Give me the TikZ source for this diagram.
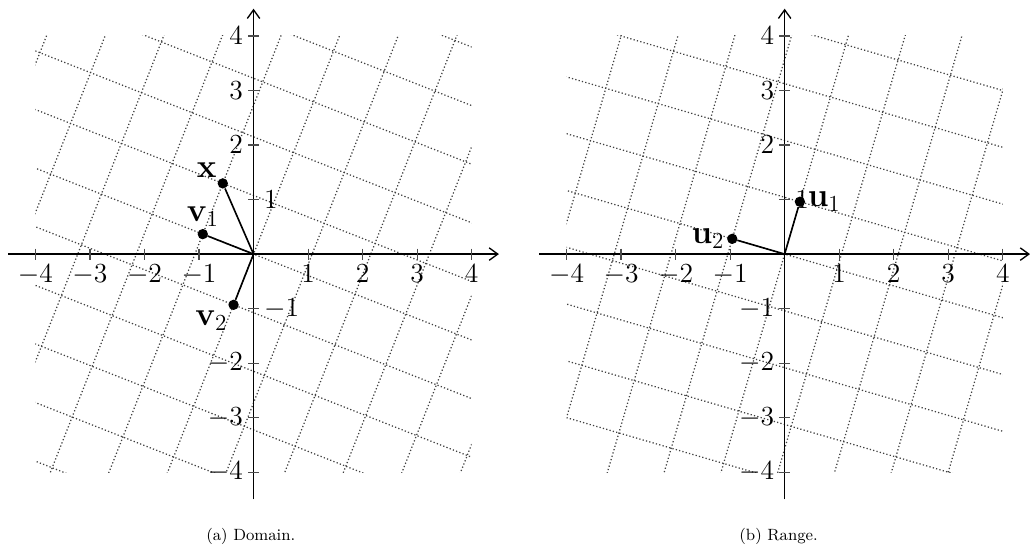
\documentclass[tikz,border=0pt]{standalone}
\usepackage{amsmath}
\usetikzlibrary{arrows.meta}

\begin{document}
\begin{tikzpicture}[
    axis/.style={draw, line width=0.7pt, -{Straight Barb[length=4.5pt, width=6.5pt]}},
    tick/.style={draw=black!70, line width=0.6pt},
    ticklabel/.style={font=\Large, inner sep=2.5pt},
    gridline/.style={draw=black!75, line width=0.65pt, dash pattern=on 0.65pt off 1.15pt},
    vec/.style={draw, line width=0.85pt},
    dot/.style={circle, fill, inner sep=0pt, minimum size=5.4pt},
    veclabel/.style={font=\LARGE, inner sep=1pt},
    caption/.style={font=\fontsize{8.5}{10}\selectfont}
]
\useasboundingbox (-4.65,-5.51) rectangle (14.24,4.66);

% --- Domain ---
\coordinate (Oa) at (0,0);
\begin{scope}
    \clip (-4,-4) rectangle (4,4);
    \draw[gridline, rotate=-21.5] (-8,-8) grid (8,8);
\end{scope}
\draw[axis] (-4.5,0) -- (4.5,0);
\draw[axis] (0,-4.5) -- (0,4.5);
\foreach \i in {-4,-3,-2,-1,1,2,3,4} {
    \draw[tick] (\i,0.1) -- (\i,-0.1);
    \draw[tick] (-0.1,\i) -- (0.1,\i);
    \node[ticklabel, below] (ax\i) at (\i,-0.1) {$\i$};
}
\foreach \i in {-4,-3,-2,2,3,4}
    \node[ticklabel, left] (ay\i) at (-0.1,\i) {$\i$};
\node[ticklabel, right] (ay1) at (0.1,1) {$1$};
\node[ticklabel, right] (aym1) at (0.1,-1) {$-1$};

% vectors v1, v2 and x
\node[dot, label={[veclabel]above:$\mathbf{v}_1$}] (v1) at (158.5:1) {};
\node[dot, label={[veclabel]below left:$\mathbf{v}_2$}] (v2) at (248.5:1) {};
\node[dot, label={[veclabel]above left:$\mathbf{x}$}] (x) at (113.5:1.4142) {};
\draw[vec] (Oa) -- (v1);
\draw[vec] (Oa) -- (v2);
\draw[vec] (Oa) -- (x);

\node[caption] (capa) at (-0.05,-5.18) {(a) Domain.};

% --- Range ---
\begin{scope}[xshift=9.74cm]
    \coordinate (Ob) at (0,0);
    \begin{scope}
        \clip (-4,-4) rectangle (4,4);
        \draw[gridline, rotate=-16.26] (-8,-8) grid (8,8);
    \end{scope}
    \draw[axis] (-4.5,0) -- (4.5,0);
    \draw[axis] (0,-4.5) -- (0,4.5);
    \foreach \i in {-4,-3,-2,-1,1,2,3,4} {
        \draw[tick] (\i,0.1) -- (\i,-0.1);
        \draw[tick] (-0.1,\i) -- (0.1,\i);
        \node[ticklabel, below] (bx\i) at (\i,-0.1) {$\i$};
    }
    \foreach \i in {-4,-3,-2,-1,2,3,4}
        \node[ticklabel, left] (by\i) at (-0.1,\i) {$\i$};
    \node[ticklabel, right] (by1) at (0.1,1) {$1$};

    % vectors u1, u2
    \node[dot, label={[veclabel]right:$\mathbf{u}_1$}] (u1) at (73.74:1) {};
    \node[dot, label={[veclabel]left:$\mathbf{u}_2$}] (u2) at (163.74:1) {};
    \draw[vec] (Ob) -- (u1);
    \draw[vec] (Ob) -- (u2);

    \node[caption] (capb) at (-0.11,-5.18) {(b) Range.};
\end{scope}

\end{tikzpicture}
\end{document}
